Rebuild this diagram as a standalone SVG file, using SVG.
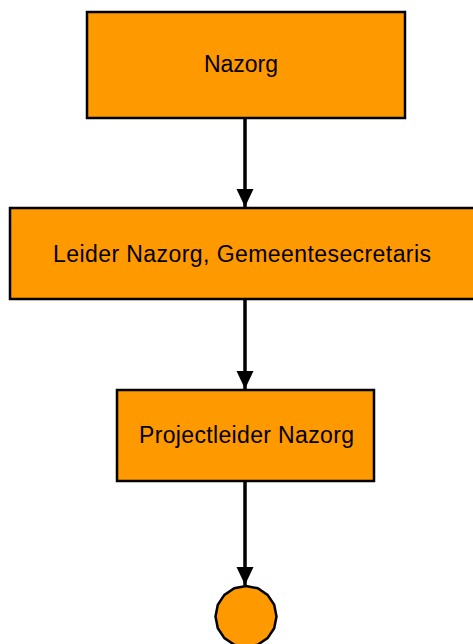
<svg xmlns="http://www.w3.org/2000/svg" width="473" height="644" viewBox="0 0 473 644">
<style>
.box{fill:#FF9900;stroke:#000;stroke-width:2.5}
.lbl{font-family:"Liberation Sans",Arial,sans-serif;font-size:23px;fill:#000}
.edge{stroke:#000;stroke-width:3.5;fill:none}
</style>
<defs>
<marker id="arr" markerUnits="userSpaceOnUse" markerWidth="20" markerHeight="20" viewBox="0 0 20 20" refX="18" refY="10" orient="auto">
<path d="M0,1.5 L18,10 L0,18.5 Z" fill="#000"/>
</marker>
</defs>
<rect width="473" height="644" fill="#fff"/>
<g id="connectors">
<line class="edge" x1="245" y1="116" x2="245" y2="207" marker-end="url(#arr)"/>
<line class="edge" x1="245" y1="297" x2="245" y2="389" marker-end="url(#arr)"/>
<line class="edge" x1="245" y1="479" x2="245" y2="585" marker-end="url(#arr)"/>
</g>
<g id="nazorg">
<rect class="box" x="87" y="12" width="318" height="106"/>
<text class="lbl" x="204" y="72" textLength="74" lengthAdjust="spacing">Nazorg</text>
</g>
<g id="leider">
<rect class="box" x="10" y="208" width="472" height="91"/>
<text class="lbl" x="53" y="262" textLength="378" lengthAdjust="spacing">Leider Nazorg, Gemeentesecretaris</text>
</g>
<g id="projectleider">
<rect class="box" x="117" y="390" width="257" height="91"/>
<text class="lbl" x="139" y="443" textLength="215" lengthAdjust="spacing">Projectleider Nazorg</text>
</g>
<g id="end">
<polygon class="box" points="246,586 257.7,588.3 267.6,594.9 274.2,604.8 276.5,616.5 274.2,628.2 267.6,638.1 257.7,644.7 246,647 234.3,644.7 224.4,638.1 217.8,628.2 215.5,616.5 217.8,604.8 224.4,594.9 234.3,588.3"/>
</g>
</svg>
